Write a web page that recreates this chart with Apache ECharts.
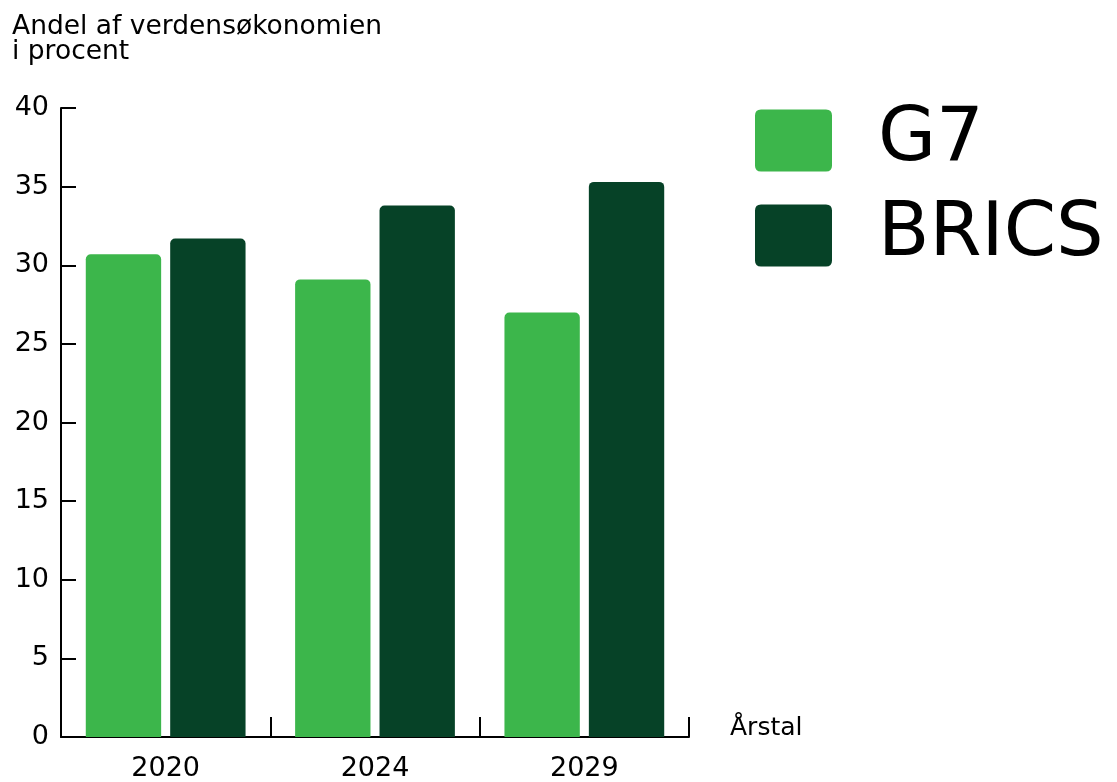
<!DOCTYPE html>
<html><head><meta charset="utf-8">
<script src="https://cdn.jsdelivr.net/npm/echarts@6/dist/echarts.min.js"></script>
<style>html,body{margin:0;padding:0;background:#fff}#c{width:1117px;height:782px}</style>
</head><body><div id="c"></div>
<script>
const categories = ['2020', '2024', '2029'];
const seriesNames = ['G7', 'BRICS'];
const g7Values = [30.7, 29.1, 27.0];
const bricsValues = [31.7, 33.8, 35.3];
const yTicks = [0, 5, 10, 15, 20, 25, 30, 35, 40];
const yTitle = 'Andel af verdensøkonomien\ni procent';
const xTitle = 'Årstal';

const FONT = "'DejaVu Sans', sans-serif";
const chart = echarts.init(document.getElementById('c'));
chart.setOption({
  animation: false,
  textStyle: { fontFamily: FONT, color: '#000' },
  title: {
    text: yTitle, left: 12, top: 15, padding: 0,
    textStyle: { fontFamily: FONT, fontSize: 26.5, fontWeight: 'normal', lineHeight: 25, color: '#000' }
  },
  legend: {
    orient: 'vertical', left: 755, top: 103, padding: 0,
    itemWidth: 77, itemHeight: 62, itemGap: 20,
    icon: 'path://M6,0H71Q77,0 77,6V56Q77,62 71,62H6Q0,62 0,56V6Q0,0 6,0Z',
    data: seriesNames,
    textStyle: { fontFamily: FONT, fontSize: 75, color: '#000', padding: [0, 0, 0, 41] }
  },
  grid: { left: 61, right: 428, top: 108, bottom: 45, containLabel: false },
  xAxis: {
    type: 'category', data: categories,
    name: xTitle, nameLocation: 'end', nameGap: 41,
    nameTextStyle: { fontFamily: FONT, fontSize: 25, color: '#000', align: 'left', verticalAlign: 'bottom', padding: [0, 0, -4, 0] },
    axisLine: { show: true, lineStyle: { color: '#000', width: 2 } },
    axisTick: { show: true, inside: true, length: 20, alignWithLabel: false, interval: 0, lineStyle: { color: '#000', width: 2 } },
    axisLabel: { fontFamily: FONT, fontSize: 27, color: '#000', margin: 18 }
  },
  yAxis: {
    type: 'value', min: yTicks[0], max: yTicks[yTicks.length - 1], interval: yTicks[1] - yTicks[0],
    axisLine: { show: true, lineStyle: { color: '#000', width: 2 } },
    axisTick: { show: true, inside: true, length: 15, lineStyle: { color: '#000', width: 2 } },
    axisLabel: { fontFamily: FONT, fontSize: 27, color: '#000', margin: 12 },
    splitLine: { show: false }
  },
  series: [
    { name: seriesNames[0], type: 'bar', data: g7Values, barWidth: '36%', barGap: '12%',
      itemStyle: { color: '#3cb64b', borderRadius: [5, 5, 0, 0] } },
    { name: seriesNames[1], type: 'bar', data: bricsValues, barWidth: '36%', barGap: '12%',
      itemStyle: { color: '#064227', borderRadius: [5, 5, 0, 0] } }
  ]
});
</script></body></html>
